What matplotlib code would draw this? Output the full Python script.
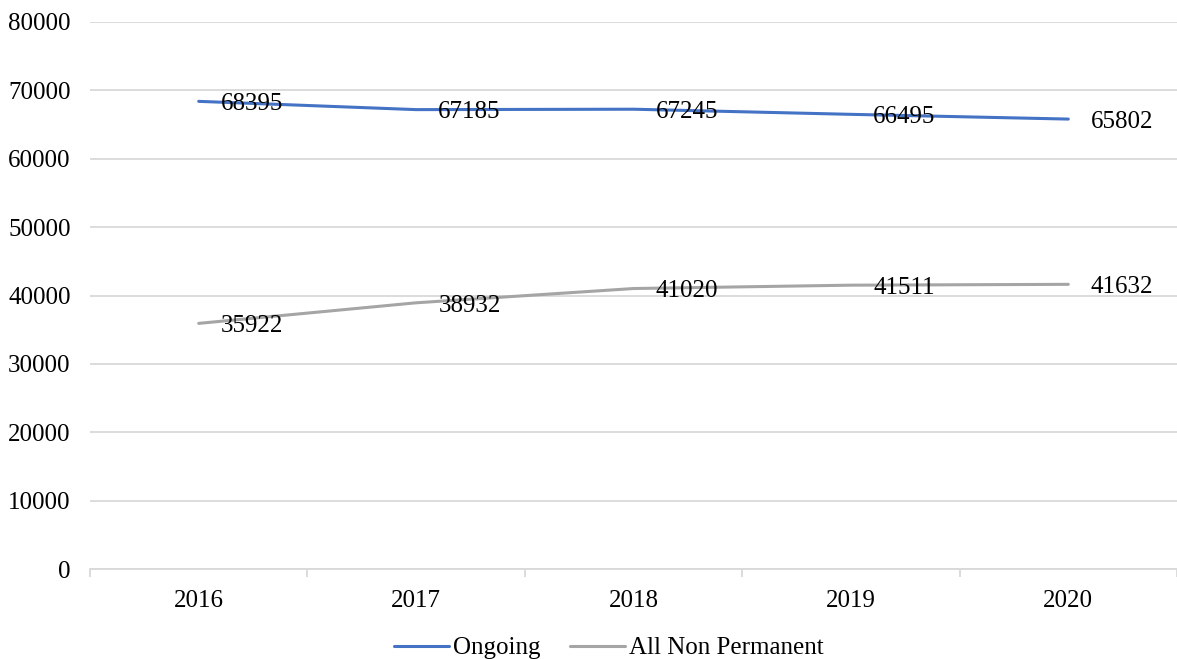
import matplotlib.pyplot as plt
from matplotlib.ticker import FixedLocator

plt.rcParams['font.family'] = ['Liberation Serif', 'DejaVu Serif']

# Данные
years = ['2016', '2017', '2018', '2019', '2020']
ongoing = [68395, 67185, 67245, 66495, 65802]
non_perm = [35922, 38932, 41020, 41511, 41632]

fs = 18

fig = plt.figure(figsize=(11.77, 6.59), dpi=100)
ax = fig.add_axes([90 / 1177, 1 - 569 / 659, 1 - 90 / 1177, (569 - 22) / 659])

x = list(range(len(years)))
ax.plot(x, ongoing, color='#4472C4', lw=2.2, label='Ongoing', solid_capstyle='round')
ax.plot(x, non_perm, color='#A5A5A5', lw=2.2, label='All Non Permanent', solid_capstyle='round')

# Подписи значений
for xi, v in zip(x, ongoing):
    ax.annotate(str(v), (xi, v), xytext=(16, -2), textcoords='offset points',
                ha='left', va='center', fontsize=fs)
for xi, v in zip(x, non_perm):
    ax.annotate(str(v), (xi, v), xytext=(16, -2), textcoords='offset points',
                ha='left', va='center', fontsize=fs)

ax.set_xlim(-0.5, len(years) - 0.5)
ax.set_ylim(0, 80000)
ax.set_yticks(range(0, 80001, 10000))
ax.set_xticks(x)
ax.set_xticklabels(years)
ax.xaxis.set_minor_locator(FixedLocator([i - 0.5 for i in range(len(years) + 1)]))

ax.grid(axis='y', color='#D9D9D9', lw=1.3)
ax.set_axisbelow(True)
for s in ['top', 'right', 'left']:
    ax.spines[s].set_visible(False)
ax.spines['bottom'].set_color('#D9D9D9')
ax.spines['bottom'].set_linewidth(1.3)

ax.tick_params(axis='y', length=0, pad=14, labelsize=fs)
ax.tick_params(axis='x', which='major', length=0, pad=15, labelsize=fs)
ax.tick_params(axis='x', which='minor', length=6, color='#D9D9D9', width=1.3)

fig.legend(loc='center', bbox_to_anchor=(609 / 1177, 1 - 648 / 659), ncol=2,
           frameon=False, fontsize=fs, handlelength=2.2, handletextpad=0.15,
           columnspacing=1.2)

fig.savefig('out.png', dpi=100)
